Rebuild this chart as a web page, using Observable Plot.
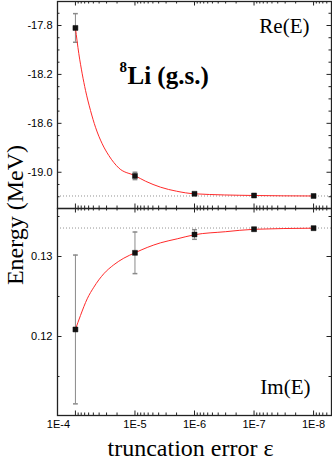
<!DOCTYPE html>
<html><head><meta charset="utf-8">
<script src="https://cdn.jsdelivr.net/npm/d3@7"></script>
<script src="https://cdn.jsdelivr.net/npm/@observablehq/plot@0.6"></script>
<style>
html,body{margin:0;padding:0;background:#fff;}
#chart{position:relative;width:332px;height:467px;overflow:hidden;background:#fff;}
#chart svg{position:absolute;left:0;overflow:visible;background:transparent;}
#ylab{position:absolute;left:14.6px;top:215px;transform:translate(-50%,-50%) rotate(-90deg);
  font-family:"Liberation Serif",serif;font-size:24px;line-height:24px;white-space:nowrap;color:#000;}
</style></head><body><div id="chart"><div id="ylab">Energy (MeV)</div></div>
<script>
// ---- data ----
const eps    = [1e-4, 1e-5, 1e-6, 1e-7, 1e-8];
const reE    = [-17.82, -19.03, -19.176, -19.19, -19.194];
const reErr  = [0.117, 0.03, 0.006, 0.004, 0.003];
const imE    = [0.12088, 0.13046, 0.13275, 0.13341, 0.13354];
const imErr  = [0.0093, 0.0026, 0.0006, 0.0002, 0.0002];
const reLimit = -19.194;
const imLimit = 0.13356;
// fitted curves
const fitReEps = [1e-4, 8.77e-5, 7.69e-5, 6.77e-5, 5.58e-5, 4.6e-5, 3.55e-5, 2.75e-5, 1.87e-5, 1e-5, 6.65e-6, 3.72e-6, 2e-6, 1e-6, 1e-7, 1e-8];
const fitReE   = [-17.82, -18.03, -18.195, -18.33, -18.495, -18.632, -18.767, -18.863, -18.965, -19.028, -19.073, -19.122, -19.155, -19.176, -19.19, -19.194];
const fitImEps = [1e-4, 8.22e-5, 6.34e-5, 4.91e-5, 3.34e-5, 2.27e-5, 1.54e-5, 1e-5, 6.23e-6, 3.72e-6, 1.95e-6, 1e-6, 3e-7, 1e-7, 1e-8];
const fitImE   = [0.12088, 0.12263, 0.12471, 0.12616, 0.12784, 0.12896, 0.12979, 0.13046, 0.13113, 0.13171, 0.13221, 0.13272, 0.1331, 0.1334, 0.13354];
// ticks
const xTickValues = [1e-4, 1e-5, 1e-6, 1e-7, 1e-8];
const xTickLabels = ["1E-4", "1E-5", "1E-6", "1E-7", "1E-8"];
const reTicks = [-17.8, -18.2, -18.6, -19.0];
const imTicks = [0.12, 0.13];
const imMinor = [0.115, 0.125, 0.135];
const titleIso = "8";
const titleText = "Li (g.s.)";
const reLabel = "Re(E)";
const imLabel = "Im(E)";
const xLabel = "truncation error ε";

// ---- build ----
const ink = "#222", errColor = "#8a8a8a", fitColor = "#ff2a2a";
const W = 332, ML = 57, MR = 1, PW = W - ML - MR;
const xDomain = [2e-4, 5e-9];
const xMinor = [];
for (let e = -5; e >= -9; e--) for (let m = 2; m <= 9; m++) {
  const v = +(m * Math.pow(10, e)).toPrecision(3);
  if (v >= 5e-9 && v < 1e-4) xMinor.push(v);
}
const reMinor = d3.range(-192, -176).map(d => d / 10).filter(v => !reTicks.some(t => Math.abs(t - v) < 1e-6));

const reRows = eps.map((x, i) => ({x, v: reE[i], e: reErr[i]}));
const imRows = eps.map((x, i) => ({x, v: imE[i], e: imErr[i]}));
const reFit = fitReEps.map((x, i) => ({x, v: fitReE[i]}));
const imFit = fitImEps.map((x, i) => ({x, v: fitImE[i]}));

const capSymbol = {draw(ctx, size) { const r = Math.sqrt(size / Math.PI); ctx.moveTo(-r, 0); ctx.lineTo(r, 0); }};

function frameTicks(H, yMaj, yMin) {
  const L = 4.5, l = 2.5;
  return [
    Plot.tickX(xTickValues, {x: d => d, insetTop: H - L, stroke: ink}),
    Plot.tickX(xTickValues, {x: d => d, insetBottom: H - L, stroke: ink}),
    Plot.tickX(xMinor, {x: d => d, insetTop: H - l, stroke: ink}),
    Plot.tickX(xMinor, {x: d => d, insetBottom: H - l, stroke: ink}),
    Plot.tickY(yMaj, {y: d => d, insetRight: PW - L, stroke: ink}),
    Plot.tickY(yMaj, {y: d => d, insetLeft: PW - L, stroke: ink}),
    Plot.tickY(yMin, {y: d => d, insetRight: PW - l, stroke: ink}),
    Plot.tickY(yMin, {y: d => d, insetLeft: PW - l, stroke: ink})
  ];
}
function dataMarks(rows, fit, limit) {
  return [
    Plot.ruleY([limit], {stroke: "#777", strokeWidth: 0.8, strokeDasharray: "1,2"}),
    Plot.ruleX(rows, {x: "x", y1: d => d.v - d.e, y2: d => d.v + d.e, stroke: errColor, strokeWidth: 1}),
    Plot.dot(rows, {x: "x", y: d => d.v + d.e, symbol: capSymbol, r: 2.4, stroke: errColor, fill: "none"}),
    Plot.dot(rows, {x: "x", y: d => d.v - d.e, symbol: capSymbol, r: 2.4, stroke: errColor, fill: "none"}),
    Plot.line(fit, {x: "x", y: "v", stroke: fitColor, strokeWidth: 1, curve: "monotone-x"}),
    Plot.dot(rows, {x: "x", y: "v", symbol: "square", r: 2.8, fill: "#111", stroke: "#111", strokeWidth: 0.5})
  ];
}
const style = {fontFamily: "'Liberation Sans', Arial, sans-serif", fontSize: "11px", color: "#000", background: "transparent"};

// top panel: plot area y 1..208
const topH = 207;
const topPlot = Plot.plot({
  width: W, height: 210, marginLeft: ML, marginRight: MR, marginTop: 1, marginBottom: 2,
  style,
  x: {type: "log", domain: xDomain, axis: null},
  y: {domain: [-17.8 - 183 / 122.3, -17.8 + 24 / 122.3], axis: null},
  marks: [
    ...dataMarks(reRows, reFit, reLimit),
    ...frameTicks(topH, reTicks, reMinor),
    Plot.axisY(reTicks, {tickSize: 0, tickPadding: 5, label: null, tickFormat: d => d.toFixed(1), fontSize: 11}),
    Plot.text([reLabel], {frameAnchor: "top-right", dx: -22, dy: 24.3, textAnchor: "end", lineAnchor: "middle",
      fontFamily: "'Liberation Serif', serif", fontSize: 21}),
    Plot.text([titleIso], {frameAnchor: "top-left", dx: 62, dy: 65.5, textAnchor: "start", lineAnchor: "middle",
      fontFamily: "'Liberation Serif', serif", fontSize: 15, fontWeight: "bold"}),
    Plot.text([titleText], {frameAnchor: "top-left", dx: 70, dy: 74, textAnchor: "start", lineAnchor: "middle",
      fontFamily: "'Liberation Serif', serif", fontSize: 25, fontWeight: "bold"}),
    Plot.frame({stroke: ink, strokeWidth: 1.3})
  ]
});
topPlot.style.top = "0px";

// bottom panel: plot area y 208..415
const botH = 207;
const botPlot = Plot.plot({
  width: W, height: 260, marginLeft: ML, marginRight: MR, marginTop: 1, marginBottom: 52,
  style,
  x: {type: "log", domain: xDomain, axis: null},
  y: {domain: [0.13 - 159 / 8000, 0.13 + 48 / 8000], axis: null},
  marks: [
    ...dataMarks(imRows, imFit, imLimit),
    ...frameTicks(botH, imTicks, imMinor),
    Plot.axisY(imTicks, {tickSize: 0, tickPadding: 5, label: null, tickFormat: d => d.toFixed(2), fontSize: 11}),
    Plot.axisX(xTickValues.slice(1), {tickSize: 0, tickPadding: 5, label: null, fontSize: 11,
      tickFormat: d => xTickLabels[xTickValues.indexOf(d)]}),
    Plot.axisX(xTickValues.slice(0, 1), {tickSize: 0, tickPadding: 5, label: null, fontSize: 11, dx: -17,
      tickFormat: d => xTickLabels[xTickValues.indexOf(d)]}),
    Plot.text([imLabel], {frameAnchor: "bottom-right", dx: -21, dy: -28.7, textAnchor: "end", lineAnchor: "middle",
      fontFamily: "'Liberation Serif', serif", fontSize: 21}),
    Plot.text([xLabel], {frameAnchor: "bottom", dx: -4, dy: 33.3, lineAnchor: "middle",
      fontFamily: "'Liberation Serif', serif", fontSize: 24}),
    Plot.frame({stroke: ink, strokeWidth: 1.3})
  ]
});
botPlot.style.top = "207px";

const chart = document.getElementById("chart");
chart.appendChild(topPlot);
chart.appendChild(botPlot);
</script>
</body></html>
